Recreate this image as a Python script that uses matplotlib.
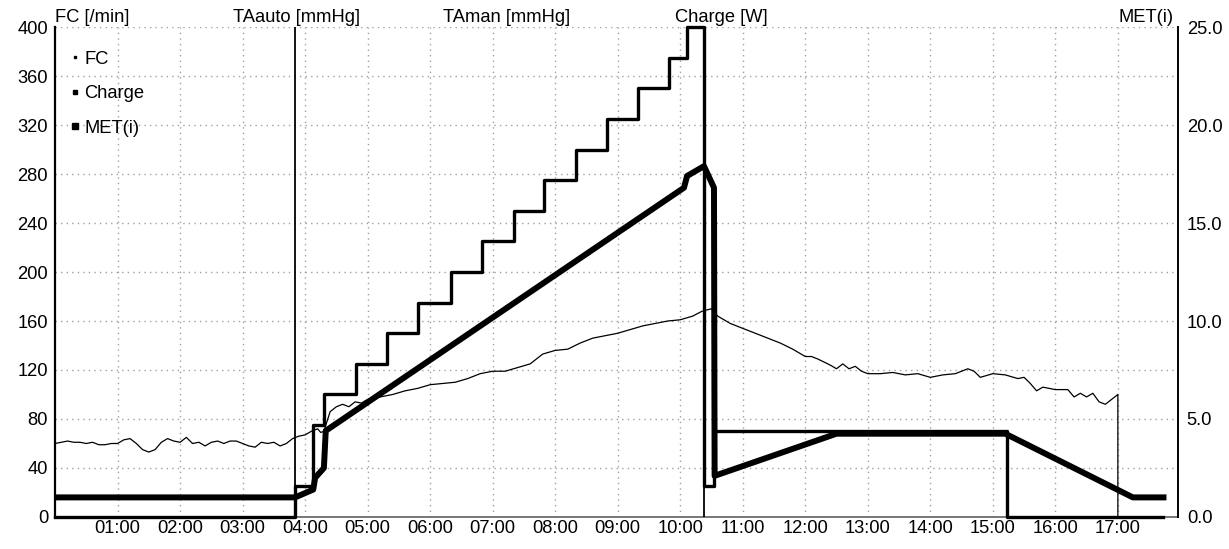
import matplotlib
matplotlib.use('Agg')
import matplotlib.pyplot as plt
from matplotlib.lines import Line2D
import numpy as np

plt.rcParams['font.family'] = ['Liberation Sans', 'DejaVu Sans']

# Heart rate (FC), time in hours from start
fc_t = [0.0, 0.1, 0.2, 0.3, 0.4, 0.5, 0.6, 0.7, 0.8, 0.9, 1.0, 1.1, 1.2, 1.3, 1.4, 1.5,
        1.6, 1.7, 1.8, 1.9, 2.0, 2.1, 2.2, 2.3, 2.4, 2.5, 2.6, 2.7, 2.8, 2.9, 3.0, 3.1,
        3.2, 3.3, 3.4, 3.5, 3.6, 3.7, 3.8, 3.9, 4.0, 4.1, 4.2, 4.25, 4.3, 4.4, 4.5, 4.6,
        4.7, 4.8, 4.9, 5.0, 5.2, 5.4, 5.6, 5.8, 6.0, 6.2, 6.4, 6.6, 6.8, 7.0, 7.2, 7.4,
        7.6, 7.8, 8.0, 8.2, 8.4, 8.6, 8.8, 9.0, 9.2, 9.4, 9.6, 9.8, 10.0, 10.2, 10.35, 10.5,
        10.6, 10.8, 11.0, 11.2, 11.4, 11.6, 11.8, 12.0, 12.1, 12.2, 12.4, 12.5, 12.6, 12.7,
        12.8, 12.9, 13.0, 13.2, 13.4, 13.6, 13.8, 14.0, 14.2, 14.4, 14.6, 14.7, 14.8, 15.0,
        15.2, 15.4, 15.5, 15.6, 15.7, 15.8, 16.0, 16.2, 16.3, 16.4, 16.5, 16.6, 16.7, 16.8,
        16.9, 17.0, 17.0]
fc_v = [60, 61, 62, 61, 61, 60, 61, 59, 59, 60, 60, 63, 64, 60, 55, 53,
        55, 61, 64, 62, 61, 65, 60, 61, 58, 61, 62, 60, 62, 62, 60, 58,
        57, 61, 60, 61, 58, 60, 64, 66, 67, 70, 72, 69, 70, 86, 90, 92,
        90, 94, 93, 96, 98, 100, 103, 105, 108, 109, 110, 113, 117, 119, 119, 122,
        125, 133, 136, 137, 142, 146, 148, 150, 153, 156, 158, 160, 161, 164, 168, 170,
        164, 158, 154, 150, 146, 142, 137, 131, 131, 129, 124, 121, 125, 121,
        123, 119, 117, 117, 118, 116, 117, 114, 116, 117, 121, 119, 114, 117,
        116, 113, 114, 109, 103, 106, 104, 104, 98, 101, 98, 101, 94, 92,
        96, 100, 0]

# Work load (Charge) in W, value holds until next change
charge_t = [0, 3.84, 4.13, 4.30, 4.82, 5.31, 5.81, 6.34, 6.83, 7.34, 7.82, 8.34, 8.83,
            9.33, 9.82, 10.11, 10.38, 10.54, 15.22, 17.73]
charge_w = [0, 25, 75, 100, 125, 150, 175, 200, 225, 250, 275, 300, 325,
            350, 375, 400, 25, 70, 0, 0]

# MET(i)
met_t = [0, 3.84, 4.13, 4.16, 4.30, 4.33, 10.06, 10.11, 10.38, 10.54, 10.55, 12.5,
         15.2, 17.24, 17.73]
met_v = [1.0, 1.0, 1.4, 2.0, 2.5, 4.4, 16.8, 17.4, 17.9, 16.8, 2.1, 4.25,
         4.25, 1.0, 1.0]

# event markers (start / end of exercise)
events = [3.84, 10.38]

hour_ticks = list(range(1, 18))
hour_labels = [f'{h:02d}:00' for h in hour_ticks]

fs = 13.2

fig = plt.figure(figsize=[12.29, 5.49], dpi=100)
ax = fig.add_axes([0.0448, 0.0583, 0.9141, 0.8925])

ax.set_xlim(0, 17.97)
ax.set_ylim(0, 400)
ax.set_yticks(range(0, 401, 40))
ax.set_xticks(hour_ticks)
ax.set_xticklabels(hour_labels)
ax.tick_params(length=0, labelsize=fs)
ax.tick_params(axis='x', pad=2)
ax.tick_params(axis='y', pad=5)
ax.grid(True, linestyle=(0, (1, 3)), color='#a0a0a0', linewidth=1.0)
ax.spines['top'].set_visible(False)
ax.spines['right'].set_visible(False)
ax.spines['left'].set_linewidth(1.6)
ax.spines['bottom'].set_color('#606060')
ax.spines['bottom'].set_linewidth(1.2)

for e in events:
    ax.axvline(e, color='black', linewidth=1.3, zorder=3)

ax.plot(fc_t, fc_v, color='black', linewidth=0.9, zorder=4)
ax.plot(charge_t, charge_w, color='black', linewidth=2.4, drawstyle='steps-post',
        zorder=5, clip_on=False)

ax2 = ax.twinx()
ax2.set_ylim(0, 25)
ax2.set_yticks(np.arange(0, 25.1, 5))
ax2.set_yticklabels([f'{v:.1f}' for v in np.arange(0, 25.1, 5)])
ax2.tick_params(length=0, labelsize=fs, pad=6)
for s in ['top', 'left', 'bottom']:
    ax2.spines[s].set_visible(False)
ax2.spines['right'].set_linewidth(1.4)
ax2.plot(met_t, met_v, color='black', linewidth=4.3, solid_joinstyle='round', zorder=6)

# header labels
hy = 1 - 22 / 549
fig.text(0.0448, hy, 'FC [/min]', fontsize=fs, ha='left', va='baseline')
fig.text(0.241, hy, 'TAauto [mmHg]', fontsize=fs, ha='center', va='baseline')
fig.text(0.412, hy, 'TAman [mmHg]', fontsize=fs, ha='center', va='baseline')
fig.text(0.587, hy, 'Charge [W]', fontsize=fs, ha='center', va='baseline')
fig.text(0.955, hy, 'MET(i)', fontsize=fs, ha='right', va='baseline')

handles = [Line2D([], [], linestyle='none', marker='s', markersize=2, color='black'),
           Line2D([], [], linestyle='none', marker='s', markersize=3, color='black'),
           Line2D([], [], linestyle='none', marker='s', markersize=4.5, color='black')]
ax.legend(handles, ['FC', 'Charge', 'MET(i)'], loc='upper left', frameon=False,
          fontsize=fs, handlelength=0.4, handletextpad=0.3, labelspacing=0.95,
          bbox_to_anchor=(0.0, 0.985), borderaxespad=0.5)

plt.savefig('out.png', dpi=100)
